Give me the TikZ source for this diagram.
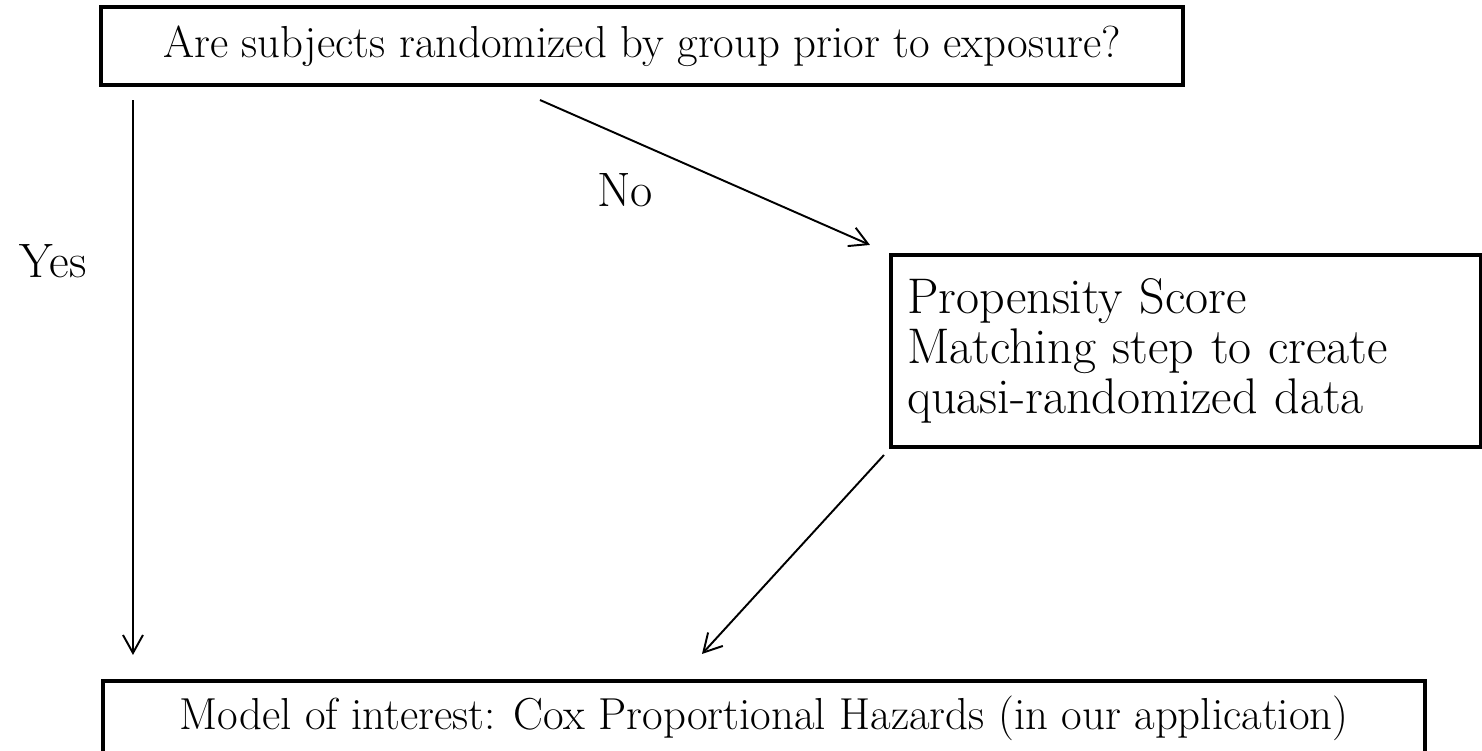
\documentclass[tikz,border=0pt]{standalone}
\usepackage{tikz}
\usetikzlibrary{arrows.meta, positioning}
\tikzstyle{arrow} = [line width=1.1pt, -{Straight Barb[length=3.6mm, width=4mm]}]
\tikzstyle{qbox} = [draw, line width=2.3pt, inner sep=0pt]

\begin{document}
\begin{tikzpicture}
    \useasboundingbox (0,0) rectangle (29.64,15.02);
    \node[qbox, minimum width=21.64cm, minimum height=1.56cm, font=\fontsize{25.5}{30}\selectfont] (question) at (12.84,14.1) {Are subjects randomized by group prior to exposure?};
    \node[qbox, minimum width=11.8cm, minimum height=3.84cm, text width=11.16cm, align=left, font=\fontsize{28.5}{28.5}\selectfont] (psm) at (23.72,8.0) {Propensity Score\\ Matching step to create\\ quasi-randomized data};
    \node[qbox, minimum width=26.44cm, minimum height=1.48cm, font=\fontsize{25.5}{30}\selectfont] (model) at (15.28,0.66) {Model of interest: Cox Proportional Hazards (in our application)};
    \node[anchor=base, font=\fontsize{27.5}{30}\selectfont] (yes) at (1.06,9.46) {Yes};
    \node[anchor=base, font=\fontsize{27.5}{30}\selectfont] (no) at (12.5,10.88) {No};
    \draw[arrow] ([xshift=0.68cm, yshift=-0.26cm]question.south west) -- ([xshift=0.64cm, yshift=0.48cm]model.north west);
    \draw[arrow] ([xshift=8.82cm, yshift=-0.26cm]question.south west) -- ([xshift=-0.38cm, yshift=0.16cm]psm.north west);
    \draw[arrow] ([xshift=-0.1cm, yshift=-0.12cm]psm.south west) -- ([xshift=12.02cm, yshift=0.5cm]model.north west);
  \end{tikzpicture}
\end{document}
